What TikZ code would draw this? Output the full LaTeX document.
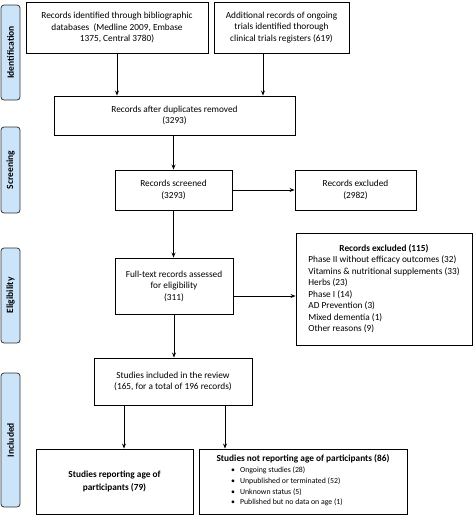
\documentclass[tikz,border=0pt]{standalone}
\usepackage{fontspec}
\setmainfont{Carlito}
\usetikzlibrary{arrows.meta}
\definecolor{stageblue}{RGB}{204,228,250}

\begin{document}
\begin{tikzpicture}[x=1pt,y=-1pt]
	\useasboundingbox (0,0) rectangle (473,515);

	% phase labels on the left
	\begin{scope}[every node/.style={draw=black!80,line width=0.8pt,fill=stageblue,rounded corners=3pt,rotate=90,
		minimum height=19pt,inner sep=0pt,font=\fontsize{9.5}{11}\selectfont\bfseries}]
		\node[minimum width=95pt] (identification) at (10.5,52.5) {Identification};
		\node[minimum width=86pt] (screening) at (10.5,170) {Screening};
		\node[minimum width=95pt] (eligibility) at (10.5,295.5) {Eligibility};
		\node[minimum width=134pt] (included) at (10.5,440) {Included};
	\end{scope}

	% boxes
	\begin{scope}[every node/.style={draw,line width=0.9pt,align=center,inner sep=2pt,
		font=\fontsize{9.3}{11.5}\selectfont}]
		\node[minimum width=182pt,minimum height=51pt] (biblio) at (117,27.5)
			{Records identified through bibliographic\\databases\ \ (Medline 2009, Embase\\1375, Central 3780)};
		\node[minimum width=135pt,minimum height=51pt] (registers) at (281.5,27.5)
			{Additional records of ongoing\\trials identified thorough\\clinical trials registers (619)};
		\node[minimum width=241pt,minimum height=39pt] (dups) at (174.5,115.5)
			{Records after duplicates removed\\(3293)};
		\node[minimum width=117pt,minimum height=40pt] (screened) at (173.5,190)
			{Records screened\\(3293)};
		\node[minimum width=121pt,minimum height=40pt] (excl) at (355.5,190)
			{Records excluded\\(2982)};
		\node[minimum width=118pt,minimum height=56pt] (fulltext) at (174,286)
			{Full-text records assessed\\for eligibility\\(311)};
		\node[minimum width=176pt,minimum height=112pt] (exclfull) at (384,289)
			{\begin{tabular}{@{}l@{}}
				\multicolumn{1}{c}{\bfseries Records excluded (115)}\\
				Phase II without efficacy outcomes (32)\\
				Vitamins \& nutritional supplements (33)\\
				Herbs (23)\\
				Phase I (14)\\
				AD Prevention (3)\\
				Mixed dementia (1)\\
				Other reasons (9)
			\end{tabular}};
		\node[minimum width=158pt,minimum height=47pt] (review) at (173,381.5)
			{Studies included in the review\\(165, for a total of 196 records)};
		\node[minimum width=157pt,minimum height=65pt,font=\fontsize{9.3}{12.5}\selectfont\bfseries] (reporting) at (114.5,481.5)
			{Studies reporting age of\\participants (79)};
		\node[minimum width=208pt,minimum height=65pt] (notreporting) at (303,481.5)
			{{\bfseries Studies not reporting age of participants (86)}\\[1pt]
			{\fontsize{7.8}{10.7}\selectfont
			\begin{tabular}{@{}l@{\hspace{32pt}}}
				\textbullet\hspace{5pt}Ongoing studies (28)\\
				\textbullet\hspace{5pt}Unpublished or terminated (52)\\
				\textbullet\hspace{5pt}Unknown status (5)\\
				\textbullet\hspace{5pt}Published but no data on age (1)
			\end{tabular}}};
	\end{scope}

	\coordinate (regarrow) at (263,0);
	\coordinate (elig) at (0,296);
	\coordinate (leftarrow) at (124,0);
	\coordinate (rightarrow) at (225,0);

	% connectors
	\begin{scope}[>={Stealth[black,length=5pt,width=4pt]},line width=0.9pt]
		\draw[->] (biblio) -- (biblio |- dups.north);
		\draw[->] (regarrow |- registers.south) -- (regarrow |- dups.north);

		\draw[->] (screened |- dups.south) -- (screened);
		\draw[->] (screened) -- (excl);
		\draw[->] (screened.south) -- (screened.south |- fulltext.north);

		\draw[->] (elig -| fulltext.east) -- (elig -| exclfull.west);
		\draw[->] (fulltext.south) -- (fulltext.south |- review.north);

		\draw[->] (leftarrow |- review.south) -- (leftarrow |- reporting.north);
		\draw[->] (rightarrow |- review.south) -- (rightarrow |- notreporting.north);
	\end{scope}
\end{tikzpicture}
\end{document}
